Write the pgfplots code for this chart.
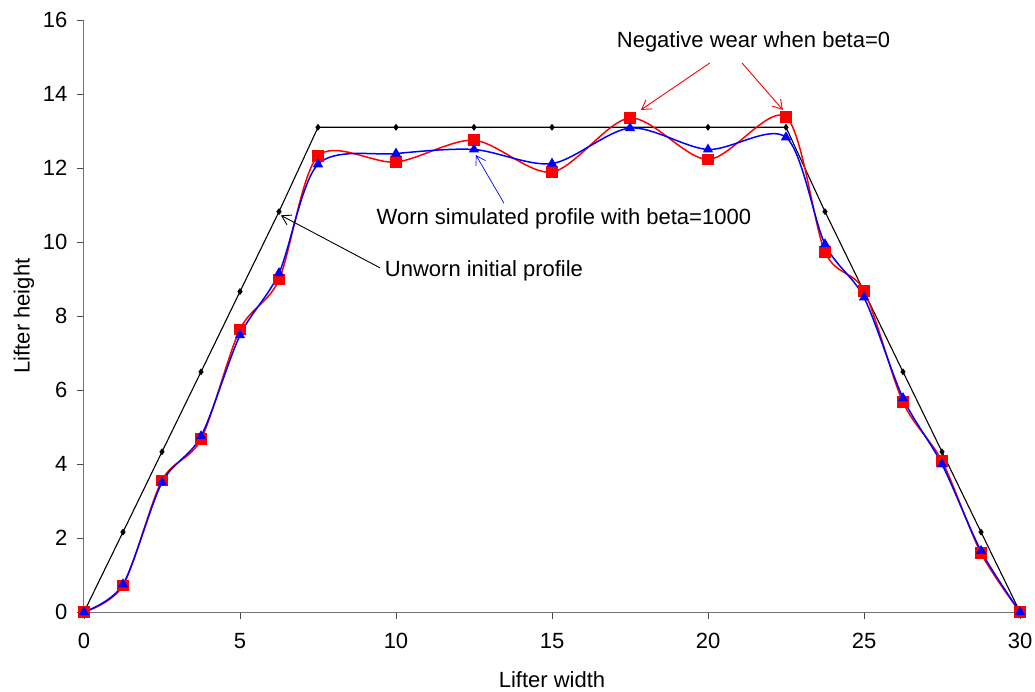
\documentclass[border=0pt]{standalone}
\usepackage{fontspec}
\setmainfont{Liberation Sans}
\usepackage{pgfplots}
\pgfplotsset{compat=1.18}
\usetikzlibrary{arrows.meta}
\pgfplotstableread{
x y
0 0
1.25 2.16
2.5 4.33
3.75 6.49
5 8.66
6.25 10.82
7.5 13.1
10 13.1
12.5 13.1
15 13.1
17.5 13.1
20 13.1
22.5 13.1
23.75 10.82
25 8.66
26.25 6.49
27.5 4.33
28.75 2.16
30 0
}\unworn
\pgfplotstableread{
x y
0 0
1.25 0.72
2.5 3.56
3.75 4.67
5 7.64
6.25 8.98
7.5 12.32
10 12.16
12.5 12.75
15 11.89
17.5 13.35
20 12.23
22.5 13.38
23.75 9.73
25 8.68
26.25 5.67
27.5 4.08
28.75 1.59
30 0
}\betazero
\pgfplotstableread{
x y
0 0
1.25 0.75
2.5 3.50
3.75 4.75
5 7.48
6.25 9.16
7.5 12.10
10 12.39
12.5 12.50
15 12.12
17.5 13.08
20 12.50
22.5 12.83
23.75 9.94
25 8.50
26.25 5.78
27.5 3.99
28.75 1.65
30 0
}\betathousand
\begin{document}
\fontsize{22bp}{26bp}\selectfont
\begin{tikzpicture}
\begin{axis}[
  scale only axis, width=936bp, height=592bp,
  xmin=0, xmax=30, ymin=0, ymax=16,
  axis x line*=bottom, axis y line*=left,
  axis line style={draw=black!55, line width=1bp},
  tick align=outside, major tick length=7bp,
  tick style={draw=black!70, line width=0.9bp},
  xtick={0,5,...,30}, ytick={0,2,...,16},
  /pgf/number format/assume math mode=true,
  xticklabel style={yshift=-7bp},
  yticklabel style={xshift=-2bp},
  xlabel={Lifter width}, ylabel={Lifter height},
  xlabel style={at={(axis description cs:0.5,-0.1149)}, anchor=center},
  ylabel style={at={(axis description cs:-0.0641,0.5)}, anchor=center},
  clip=false,
]
\addplot[black, line width=1.1bp, mark=diamond*, mark size=2.6bp] table {\unworn};
\addplot[red, line width=1.5bp, smooth, tension=0.5, mark=square*, mark size=5bp, mark options={fill=red, draw=red}] table {\betazero};
\addplot[blue, line width=1.5bp, smooth, tension=0.5, mark=triangle*, mark size=4.5bp, mark options={fill=blue, draw=blue}] table {\betathousand};
\node[anchor=center] at (axis cs:21.46,15.4) {Negative wear when beta=0};
\draw[red, line width=0.9bp, -{Straight Barb[length=9bp,width=11bp]}] (axis cs:20.06,14.84) -- (axis cs:17.85,13.57);
\draw[red, line width=0.9bp, -{Straight Barb[length=9bp,width=11bp]}] (axis cs:21.09,14.84) -- (axis cs:22.4,13.57);
\node[anchor=center] at (axis cs:15.38,10.63) {Worn simulated profile with beta=1000};
\draw[blue, line width=0.7bp, -{Straight Barb[length=9bp,width=11bp]}] (axis cs:13.46,11.05) -- (axis cs:12.56,12.35);
\node[anchor=center] at (axis cs:12.82,9.22) {Unworn initial profile};
\draw[black, line width=0.9bp, -{Straight Barb[length=9bp,width=11bp]}] (axis cs:9.49,9.3) -- (axis cs:6.31,10.72);
\end{axis}
\pgfresetboundingbox
\path (-84bp,-80bp) rectangle (951bp,612bp);
\end{tikzpicture}
\end{document}
